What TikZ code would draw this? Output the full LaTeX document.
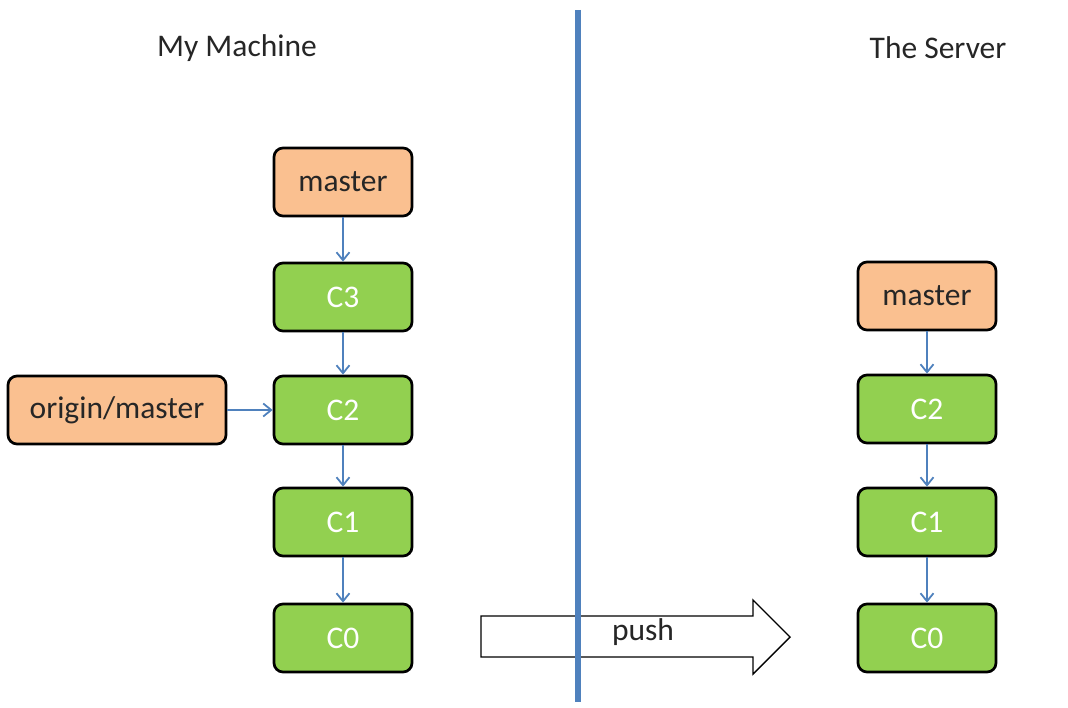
\documentclass[tikz,border=0pt]{standalone}
\usepackage{fontspec}
\setmainfont{Carlito}
\usetikzlibrary{arrows.meta}

\definecolor{refpeach}{RGB}{250,192,144}
\definecolor{commitgreen}{RGB}{146,208,80}
\definecolor{linkblue}{RGB}{79,129,189}

\tikzset{
  refbox/.style={draw=black, line width=2.7pt, rounded corners=9pt, fill=refpeach,
    minimum height=68pt, font=\fontsize{31.5}{36}\selectfont, text=black!85},
  commit/.style={draw=black, line width=2.7pt, rounded corners=9pt, fill=commitgreen,
    minimum width=138pt, minimum height=68pt, font=\fontsize{31.5}{36}\selectfont, text=white},
  link/.style={linkblue, line width=1.8pt, -{Straight Barb[length=8pt,width=13pt,line width=1.8pt]}},
  title/.style={font=\fontsize{31.5}{36}\selectfont, text=black!85}
}

\begin{document}
\begin{tikzpicture}[x=1pt,y=-1pt]
        \useasboundingbox (0,0) rectangle (1068,708);
        % headings
        \node[title] (mine) at (237,48) {My Machine};
        \node[title] (server) at (938,48) {The Server};
        % my machine
        \node[refbox, minimum width=138pt] (lmaster) at (343,182) {master};
        \node[commit] (lC3) at (343,297) {C3};
        \node[commit] (lC2) at (343,410) {C2};
        \node[commit] (lC1) at (343,522) {C1};
        \node[commit] (lC0) at (343,638) {C0};
        \node[refbox, minimum width=218pt] (origin) at (117,410) {origin/master};
        \draw[link] (lmaster) -- (lC3);
        \draw[link] (lC3) -- (lC2);
        \draw[link] (lC2) -- (lC1);
        \draw[link] (lC1) -- (lC0);
        \draw[link] (origin) -- (lC2);
        % the server
        \node[refbox, minimum width=138pt] (rmaster) at (927,296) {master};
        \node[commit] (rC2) at (927,409) {C2};
        \node[commit] (rC1) at (927,522) {C1};
        \node[commit] (rC0) at (927,638) {C0};
        \draw[link] (rmaster) -- (rC2);
        \draw[link] (rC2) -- (rC1);
        \draw[link] (rC1) -- (rC0);
        % push arrow
        \draw[fill=white, line width=1.4pt, line join=miter]
          (481,616) -- (753,616) -- (753,600) -- (790,637) -- (753,674)
          -- (753,657) -- (481,657) -- cycle;
        \node[font=\fontsize{31.5}{36}\selectfont, text=black!85] (push) at (643,632) {push};
        % divider
        \draw[linkblue, line width=6pt] (578,10) -- (578,702);
\end{tikzpicture}
\end{document}
